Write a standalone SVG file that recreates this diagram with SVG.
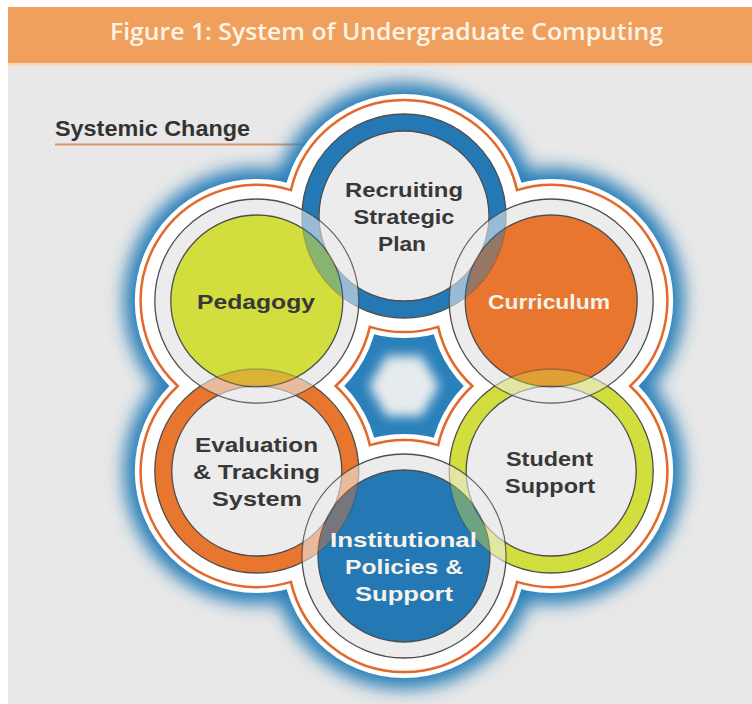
<svg xmlns="http://www.w3.org/2000/svg" xmlns:xlink="http://www.w3.org/1999/xlink" width="752" height="704" viewBox="0 0 752 704">
<style>
.disc{fill:#ececec;stroke:#4d4d4d;stroke-width:1.3}
.ln{stroke:#4d4d4d;stroke-width:1.3}
.lbl{font-family:"Liberation Sans",Arial,sans-serif;font-weight:bold;font-size:21px;text-anchor:middle;fill:#383838}
.wlbl{fill:#f7f2ea}
.ov{opacity:0.42}
</style>
<defs>
<filter id="glowblur" x="-20%" y="-20%" width="140%" height="140%"><feGaussianBlur stdDeviation="8.5"/></filter>
<filter id="hexblur" x="-50%" y="-50%" width="200%" height="200%"><feGaussianBlur stdDeviation="5.5"/></filter>
<clipPath id="clip-ped"><circle cx="256.8" cy="301" r="102"/></clipPath>
<clipPath id="clip-cur"><circle cx="551.2" cy="301" r="102"/></clipPath>
<clipPath id="clip-inst"><circle cx="404" cy="556" r="102"/></clipPath>
</defs>

<!-- page -->
<rect x="0" y="0" width="752" height="704" fill="#ffffff"/>
<rect x="8" y="66" width="744" height="638" fill="#e8e8e8"/>
<rect x="8" y="7" width="744" height="56" fill="#f0a05c"/>
<rect x="8" y="63" width="744" height="3" fill="#f7d6ba"/>
<text x="386.5" y="39.5" font-family="'Open Sans','Noto Sans',sans-serif" font-weight="600" font-size="24" fill="#fdf4e8" text-anchor="middle" textLength="553" lengthAdjust="spacingAndGlyphs">Figure 1: System of Undergraduate Computing</text>

<!-- systemic change label -->
<text x="55" y="135.5" font-family="'Liberation Sans',Arial,sans-serif" font-weight="bold" font-size="22" fill="#333333" textLength="195" lengthAdjust="spacingAndGlyphs">Systemic Change</text>
<line x1="55" y1="144.5" x2="313" y2="144.5" stroke="#d9946a" stroke-width="2"/>

<!-- outer glow, white field and orange boundary -->
<g id="boundary">
<g filter="url(#glowblur)" fill="#2a80ba">
<circle cx="404" cy="216" r="133"/>
<circle cx="551.2" cy="301" r="133"/>
<circle cx="551.2" cy="471" r="133"/>
<circle cx="404" cy="556" r="133"/>
<circle cx="256.8" cy="471" r="133"/>
<circle cx="256.8" cy="301" r="133"/>
<polygon points="334,386 369,325.4 439,325.4 474,386 439,446.6 369,446.6"/>
</g>
<polygon points="369,386 386.5,355.7 421.5,355.7 439,386 421.5,416.3 386.5,416.3" fill="#e6ebee" filter="url(#hexblur)"/>
<g fill="#ffffff">
<circle cx="404" cy="216" r="122"/>
<circle cx="551.2" cy="301" r="122"/>
<circle cx="551.2" cy="471" r="122"/>
<circle cx="404" cy="556" r="122"/>
<circle cx="256.8" cy="471" r="122"/>
<circle cx="256.8" cy="301" r="122"/>
</g>
<path fill="none" stroke="#e2682b" stroke-width="2.5" stroke-linejoin="miter" d="M290.9,190.1 A116,116 0 0 1 517.1,190.1 A116,116 0 0 1 630.2,386 A116,116 0 0 1 517.1,581.9 A116,116 0 0 1 290.9,581.9 A116,116 0 0 1 177.8,386 A116,116 0 0 1 290.9,190.1 Z M369.85,326.85 A116,116 0 0 0 438.15,326.85 A116,116 0 0 0 472.3,386 A116,116 0 0 0 438.15,445.15 A116,116 0 0 0 369.85,445.15 A116,116 0 0 0 335.7,386 A116,116 0 0 0 369.85,326.85 Z"/>
</g>

<!-- nodes (bottom layer first) -->
<g id="node-recruiting">
<g id="rec-shape">
<circle cx="404" cy="216" r="102" fill="#2479b5" class="ln"/>
<circle cx="404" cy="216" r="85" class="disc"/>
</g>
<text class="lbl" x="404" y="197" textLength="118" lengthAdjust="spacingAndGlyphs">Recruiting</text>
<text class="lbl" x="404" y="224" textLength="101" lengthAdjust="spacingAndGlyphs">Strategic</text>
<text class="lbl" x="402" y="251" textLength="48" lengthAdjust="spacingAndGlyphs">Plan</text>
</g>

<g id="node-evaluation">
<g id="eval-shape">
<circle cx="256.8" cy="471" r="102" fill="#e8762e" class="ln"/>
<circle cx="256.8" cy="471" r="85" class="disc"/>
</g>
<text class="lbl" x="256.5" y="452" textLength="123" lengthAdjust="spacingAndGlyphs">Evaluation</text>
<text class="lbl" x="256.5" y="479" textLength="127" lengthAdjust="spacingAndGlyphs">&amp; Tracking</text>
<text class="lbl" x="257" y="506" textLength="90" lengthAdjust="spacingAndGlyphs">System</text>
</g>

<g id="node-student-support">
<g id="ss-shape">
<circle cx="551.2" cy="471" r="102" fill="#d2de3d" class="ln"/>
<circle cx="551.2" cy="471" r="85" class="disc"/>
</g>
<text class="lbl" x="549.5" y="466" textLength="87" lengthAdjust="spacingAndGlyphs">Student</text>
<text class="lbl" x="550" y="493" textLength="90" lengthAdjust="spacingAndGlyphs">Support</text>
</g>

<g id="node-pedagogy">
<circle cx="256.8" cy="301" r="102" class="disc"/>
<circle cx="256.8" cy="301" r="86" fill="#d2de3d" class="ln"/>
<use xlink:href="#rec-shape" href="#rec-shape" clip-path="url(#clip-ped)" class="ov"/>
<use xlink:href="#eval-shape" href="#eval-shape" clip-path="url(#clip-ped)" class="ov"/>
<text class="lbl" x="256" y="309" textLength="118" lengthAdjust="spacingAndGlyphs">Pedagogy</text>
</g>

<g id="node-curriculum">
<circle cx="551.2" cy="301" r="102" class="disc"/>
<circle cx="551.2" cy="301" r="86" fill="#e8762e" class="ln"/>
<use xlink:href="#rec-shape" href="#rec-shape" clip-path="url(#clip-cur)" class="ov"/>
<use xlink:href="#ss-shape" href="#ss-shape" clip-path="url(#clip-cur)" class="ov"/>
<text class="lbl wlbl" x="549" y="309" textLength="122" lengthAdjust="spacingAndGlyphs">Curriculum</text>
</g>

<g id="node-institutional">
<circle cx="404" cy="556" r="102" class="disc"/>
<circle cx="404" cy="556" r="86" fill="#2479b5" class="ln"/>
<use xlink:href="#eval-shape" href="#eval-shape" clip-path="url(#clip-inst)" class="ov"/>
<use xlink:href="#ss-shape" href="#ss-shape" clip-path="url(#clip-inst)" class="ov"/>
<text class="lbl wlbl" x="403.5" y="547" textLength="147" lengthAdjust="spacingAndGlyphs">Institutional</text>
<text class="lbl wlbl" x="404" y="574" textLength="118" lengthAdjust="spacingAndGlyphs">Policies &amp;</text>
<text class="lbl wlbl" x="404" y="601" textLength="98" lengthAdjust="spacingAndGlyphs">Support</text>
</g>
</svg>
